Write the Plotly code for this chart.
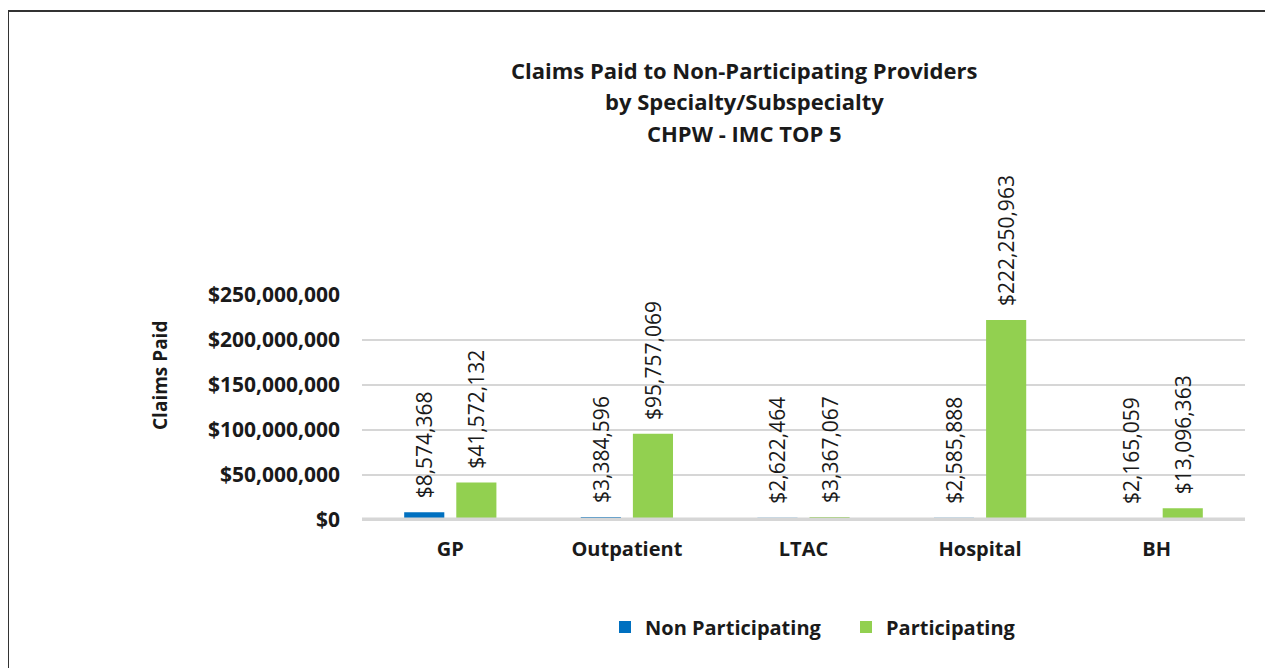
import plotly.graph_objects as go

categories = ["GP", "Outpatient", "LTAC", "Hospital", "BH"]
non_participating = [8574368, 3384596, 2622464, 2585888, 2165059]
participating = [41572132, 95757069, 3367067, 222250963, 13096363]
title_lines = ["Claims Paid to Non-Participating Providers", "by Specialty/Subspecialty", "CHPW - IMC TOP 5"]
y_ticks = [0, 50000000, 100000000, 150000000, 200000000, 250000000]

OFF = 8  # page offset of the figure (body margin)
W, H = 1265, 660
L, R, T, B = 362 - OFF, 1245 - OFF, 295 - OFF, 520 - OFF
pw, ph = R - L, B - T


def px_x(x):  # reference page pixel -> paper
    return (x - OFF - L) / pw


def px_y(y):
    return (B - (y - OFF)) / ph


FONT = "Open Sans"
TXT = "#1a1a1a"
GRID = "#d6d6d6"
NBSP = "\u00a0"

fig = go.Figure()
for name, vals, col in [("Non Participating", non_participating, "#0070C0"),
                        ("Participating", participating, "#92D050")]:
    fig.add_trace(go.Bar(
        x=categories, y=vals, name=name, marker_color=col, marker_line_width=0,
        text=[NBSP * 2 + f"${v:,.0f}" for v in vals], textposition="outside", textangle=-90,
        constraintext="none",
        textfont=dict(family=FONT, size=21, color=TXT), cliponaxis=False,
    ))

fig.update_layout(
    width=W, height=H, autosize=False,
    margin=dict(l=L, r=W - R, t=T, b=H - B, autoexpand=False),
    paper_bgcolor="white", plot_bgcolor="white",
    barmode="group", bargap=0.41, bargroupgap=0.23,
    font=dict(family=FONT, color=TXT),
    showlegend=True,
    legend=dict(orientation="h", x=px_x(846), y=px_y(627), xanchor="center", yanchor="middle",
                font=dict(family=FONT, size=20, color=TXT, weight="bold"),
                itemsizing="constant", traceorder="normal", itemwidth=30,
                entrywidthmode="pixels", entrywidth=196),
    xaxis=dict(showgrid=False, showline=False, zeroline=False,
               tickfont=dict(family=FONT, size=20, color=TXT, weight="bold"),
               ticklabelstandoff=15, automargin=False),
    yaxis=dict(range=[0, 250000000], tickvals=y_ticks, tickformat="$,.0f",
               showgrid=True, gridcolor=GRID, gridwidth=2,
               zeroline=True, zerolinecolor=GRID, zerolinewidth=2,
               showline=False, automargin=False,
               tickfont=dict(family=FONT, size=21, color=TXT, weight="bold"),
               ticklabelstandoff=21),
)

for txt, yp in zip(title_lines, [70, 101, 133]):
    fig.add_annotation(text=txt, xref="paper", yref="paper", x=px_x(744), y=px_y(yp),
                       xanchor="center", yanchor="middle", showarrow=False,
                       font=dict(family=FONT, size=22, color=TXT, weight="bold"))

fig.add_annotation(text="Claims Paid", xref="paper", yref="paper", x=px_x(160), y=px_y(376),
                   xanchor="center", yanchor="middle", textangle=-90, showarrow=False,
                   font=dict(family=FONT, size=19, color=TXT, weight="bold"))

# baseline drawn over the bars (as in the original, thin bars are hidden by it)
fig.add_shape(type="line", xref="paper", yref="y", x0=0, x1=1, y0=0, y1=0,
              layer="above", line=dict(color=GRID, width=5))

# frame
fig.add_shape(type="line", xref="paper", yref="paper", x0=px_x(8), x1=px_x(8),
              y0=px_y(11), y1=px_y(690), line=dict(color="#333333", width=2))
fig.add_shape(type="line", xref="paper", yref="paper", x0=px_x(8), x1=px_x(1280),
              y0=px_y(11), y1=px_y(11), line=dict(color="#333333", width=2))

fig.write_html("out.html")
